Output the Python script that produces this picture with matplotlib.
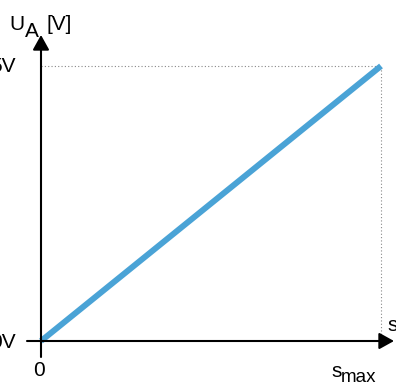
import matplotlib
matplotlib.use("Agg")
import matplotlib.pyplot as plt

# data
s_values = [0.0, 1.0]          # s from 0 to s_max
u_values = [0.0, 5.0]          # output voltage in V
y_tick_labels = ["0V", "5V"]
x_tick_labels = ["0", "smax"]

W, H = 396, 385
plt.rcParams['font.family'] = ['Liberation Sans', 'DejaVu Sans']
fig = plt.figure(figsize=(W / 100, H / 100), dpi=100)

x0, x1 = 41, 381   # pixel positions of s=0 and s=s_max
y0, y1 = 341, 66   # pixel positions of 0V and 5V
ax = fig.add_axes([x0 / W, (H - y0) / H, (x1 - x0) / W, (y0 - y1) / H])
ax.set_xlim(s_values[0], s_values[-1])
ax.set_ylim(u_values[0], u_values[-1])
ax.axis('off')

fx = lambda px: (px - x0) / (x1 - x0) * (s_values[-1] - s_values[0]) + s_values[0]
fy = lambda py: (y0 - py) / (y0 - y1) * (u_values[-1] - u_values[0]) + u_values[0]

# dotted guide lines
ax.plot([s_values[0], s_values[-1]], [u_values[-1], u_values[-1]], ls=(0, (1, 2)),
        color='#888888', lw=0.8, clip_on=False)
ax.plot([s_values[-1], s_values[-1]], [u_values[0], u_values[-1]], ls=(0, (1, 2)),
        color='#888888', lw=0.8, clip_on=False)

# axes with arrows
arrow_style = '-|>,head_length=0.45,head_width=0.25'
ax.annotate('', xy=(fx(394), 0), xytext=(fx(27), 0), annotation_clip=False,
            arrowprops=dict(arrowstyle=arrow_style, color='black',
                            lw=1.5, mutation_scale=20, shrinkA=0, shrinkB=0))
ax.annotate('', xy=(0, fy(35)), xytext=(0, fy(357)), annotation_clip=False,
            arrowprops=dict(arrowstyle=arrow_style, color='black',
                            lw=1.5, mutation_scale=20, shrinkA=0, shrinkB=0))

# the data line
ax.plot(s_values, u_values, color='#4aa3d6', lw=4.3, solid_capstyle='butt', clip_on=False)

fs = 15
def ptext(px, py, s, size=fs, **kw):
    fig.text(px / W, 1 - py / H, s, fontsize=size, **kw)

# y tick labels
ptext(16, 342, y_tick_labels[0], ha='right', va='center')
ptext(16, 67, y_tick_labels[1], ha='right', va='center')
# x tick labels
ptext(39, 370, x_tick_labels[0], ha='center', va='center')
ptext(331, 377, "s", ha='left', va='baseline')
ptext(341, 382, "max", size=13.5, ha='left', va='baseline')
# axis labels
ptext(387, 331, "s", ha='left', va='baseline')
ptext(9, 30, "U", ha='left', va='baseline')
ptext(25, 37, "A", ha='left', va='baseline')
ptext(46, 30, "[V]", ha='left', va='baseline')

fig.savefig('out.png', dpi=100)
